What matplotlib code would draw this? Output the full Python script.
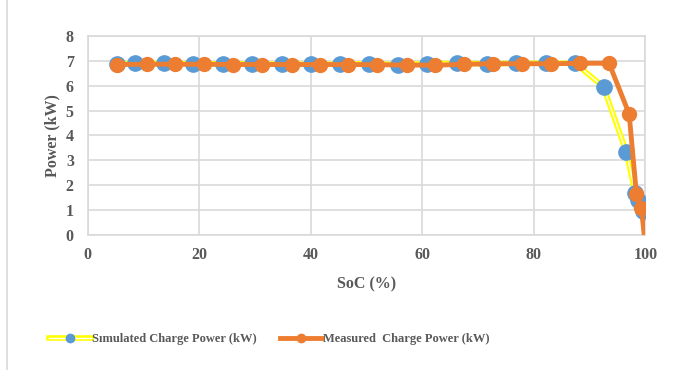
import numpy as np
import matplotlib.pyplot as plt
from matplotlib.lines import Line2D

# simulated charge power
sim_soc = [5.2, 8.4, 13.6, 18.9, 24.2, 29.4, 34.8, 40.0, 45.2, 50.4, 55.7, 60.9,
           66.2, 71.6, 76.8, 82.2, 87.4, 92.5, 96.6, 98.2, 98.6, 99.5]
sim_pow = [6.88, 6.9, 6.9, 6.88, 6.88, 6.88, 6.86, 6.86, 6.86, 6.88, 6.85, 6.88,
           6.9, 6.88, 6.9, 6.9, 6.9, 5.95, 3.33, 1.69, 1.4, 0.96]

# measured charge power
meas_soc = [5.2, 10.6, 15.6, 20.8, 26.0, 31.2, 36.6, 41.6, 46.7, 51.9, 57.3, 62.3,
            67.5, 72.7, 77.9, 83.1, 88.3, 93.5, 97.1, 98.4, 99.3, 99.8]
meas_pow = [6.85, 6.86, 6.86, 6.86, 6.85, 6.85, 6.85, 6.85, 6.85, 6.84, 6.83, 6.82,
            6.86, 6.88, 6.88, 6.88, 6.9, 6.9, 4.86, 1.65, 1.08, 0.0]

grey = '#595959'
plt.rcParams['font.family'] = ['Liberation Serif', 'DejaVu Serif']
plt.rcParams['font.weight'] = 'bold'

fig = plt.figure(figsize=(6.8, 3.7), dpi=100)
ax = fig.add_axes([0.129, 0.365, 0.82, 0.538])

# simulated: yellow line with white core + blue markers
ax.plot(sim_soc, sim_pow, color='#ffff00', lw=4, zorder=2)
ax.plot(sim_soc, sim_pow, color='white', lw=1.0, zorder=2)
ax.plot(sim_soc, sim_pow, 'o', color='#5b9bd5', ms=11, zorder=3)

# measured
ax.plot(meas_soc[:-1], meas_pow[:-1], 'o', color='#ed7d31', ms=10, zorder=5)
ax.plot(meas_soc, meas_pow, '-', color='#ed7d31', lw=3.5, zorder=4)

ax.set_xlim(0, 100)
ax.set_ylim(0, 8)
ax.set_xticks(np.arange(0, 101, 20))
ax.set_yticks(np.arange(0, 9, 1))
ax.grid(True, color='#d9d9d9', lw=1.2)
ax.set_axisbelow(True)
for s in ax.spines.values():
    s.set_color('#d9d9d9')
    s.set_linewidth(1.2)
ax.tick_params(length=0, colors=grey, labelsize=11.5)
ax.tick_params(axis='y', pad=10)
ax.tick_params(axis='x', pad=9)
for lab in ax.get_xticklabels() + ax.get_yticklabels():
    lab.set_fontweight('bold')

ax.set_xlabel('SoC (%)', color=grey, fontsize=11.5, fontweight='bold', labelpad=9)
ax.set_ylabel('Power (kW)', color=grey, fontsize=11.5, fontweight='bold', labelpad=4)

h_sim = (Line2D([], [], color='#ffff00', lw=4),
         Line2D([], [], color='white', lw=1.0),
         Line2D([], [], color='#5b9bd5', marker='o', ms=6, lw=0))
h_meas = Line2D([], [], color='#ed7d31', lw=3.5, marker='o', ms=6)
fig.legend([h_sim, h_meas],
           ['S\u0131mulated Charge Power (kW)', 'Measured  Charge Power (kW)'],
           loc='center', bbox_to_anchor=(0.396, 0.083), ncol=2, frameon=False,
           handlelength=3.4, handletextpad=0.1, columnspacing=1.8,
           prop={'size': 9, 'weight': 'bold'}, labelcolor=grey)

fig.add_artist(Line2D([0.011, 0.011], [0, 1], color='#d9d9d9', lw=1.2,
                      transform=fig.transFigure))

fig.savefig('out.png', dpi=100)
